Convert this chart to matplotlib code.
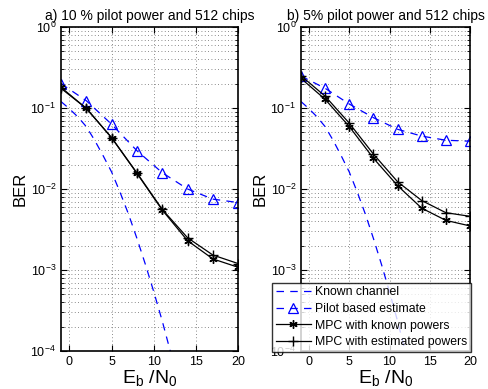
import numpy as np
import matplotlib
matplotlib.use('Agg')
import matplotlib.pyplot as plt
from matplotlib.ticker import LogLocator, MultipleLocator, NullFormatter

plt.rcParams['font.family'] = ['Liberation Sans', 'DejaVu Sans']
plt.rcParams['mathtext.fontset'] = 'custom'
plt.rcParams['mathtext.rm'] = 'Liberation Sans'
plt.rcParams['mathtext.it'] = 'Liberation Sans'

# Eb/N0 points of the simulations
ebn0 = [-1, 2, 5, 8, 11, 14, 17, 20]
# known channel curve (finer grid)
ebn0_fine = [-1, 0, 1, 2, 3, 4, 5, 6, 7, 8, 9, 10, 11, 12]
known_log = [-0.92, -1.01, -1.11, -1.23, -1.40, -1.59, -1.79, -2.04, -2.31,
             -2.61, -2.93, -3.27, -3.63, -4.02]

# a) 10 % pilot power
pilot_a = [0.20, 0.123, 0.063, 0.0297, 0.0159, 0.0100, 0.0075, 0.0068]
mpc_known_a = [0.18, 0.099, 0.043, 0.0156, 0.0055, 0.0023, 0.00137, 0.00108]
mpc_est_a = [0.175, 0.099, 0.043, 0.0158, 0.0056, 0.0025, 0.00153, 0.0012]

# b) 5 % pilot power
pilot_b = [0.248, 0.175, 0.112, 0.076, 0.0546, 0.045, 0.040, 0.0389]
mpc_known_b = [0.232, 0.128, 0.059, 0.024, 0.011, 0.0058, 0.0041, 0.0035]
mpc_est_b = [0.25, 0.14, 0.065, 0.027, 0.0123, 0.0072, 0.0051, 0.0046]

titles = ['a) 10 % pilot power and 512 chips', 'b) 5% pilot power and 512 chips']
labels = ['Known channel', 'Pilot based estimate',
          'MPC with known powers', 'MPC with estimated powers']

fig = plt.figure(figsize=(4.89, 3.89), dpi=100)
ax1 = fig.add_axes([0.1247, 0.0977, 0.3624, 0.8329])
ax2 = fig.add_axes([0.6155, 0.0977, 0.3456, 0.8329])

known = 10.0 ** np.array(known_log)
data = [(pilot_a, mpc_known_a, mpc_est_a), (pilot_b, mpc_known_b, mpc_est_b)]

for ax, title, (pil, mk, me) in zip([ax1, ax2], titles, data):
    ax.set_yscale('log')
    ax.plot(ebn0_fine, known, color='blue', linestyle=(0, (6, 5)), lw=0.9,
            label=labels[0])
    ax.plot(ebn0, pil, color='blue', linestyle=(0, (6, 5)), lw=0.9,
            marker='^', markersize=7, markerfacecolor='none',
            markeredgewidth=0.9, label=labels[1])
    ax.plot(ebn0, mk, color='black', lw=0.9, marker=(6, 2, 0), markersize=6,
            markeredgewidth=1.0, label=labels[2])
    ax.plot(ebn0, me, color='black', lw=0.9, marker='+', markersize=7,
            markeredgewidth=1.0, label=labels[3])
    ax.set_xlim(-1, 20)
    ax.set_ylim(1e-4, 1)
    ax.xaxis.set_major_locator(MultipleLocator(5))
    ax.yaxis.set_major_locator(LogLocator(base=10, numticks=10))
    ax.yaxis.set_minor_locator(LogLocator(base=10, subs=np.arange(2, 10), numticks=20))
    ax.yaxis.set_minor_formatter(NullFormatter())
    ax.tick_params(which='both', direction='in', top=True, right=True, labelsize=9)
    ax.tick_params(which='major', length=4)
    ax.tick_params(which='minor', length=2)
    ax.grid(which='major', axis='x', color='#666666', linestyle=(0, (1, 3)), lw=0.6)
    ax.grid(which='both', axis='y', color='#666666', linestyle=(0, (1, 3)), lw=0.6)
    for s in ax.spines.values():
        s.set_linewidth(1.2)
    ax.set_title(title, fontsize=10, pad=5)
    ax.set_ylabel('BER', fontsize=12, labelpad=2)
    ax.set_xlabel(r'$\mathrm{E_b}$ /$\mathrm{N_0}$', fontsize=14, labelpad=0)

leg = ax2.legend(loc='lower right', bbox_to_anchor=(1.004, -0.003),
                 fontsize=8.8, frameon=True, fancybox=False,
                 edgecolor='black', handlelength=2.9, handletextpad=0.3,
                 borderpad=0.3, labelspacing=0.38, borderaxespad=0)
leg.get_frame().set_linewidth(1.0)

fig.savefig('out.png', dpi=100)
